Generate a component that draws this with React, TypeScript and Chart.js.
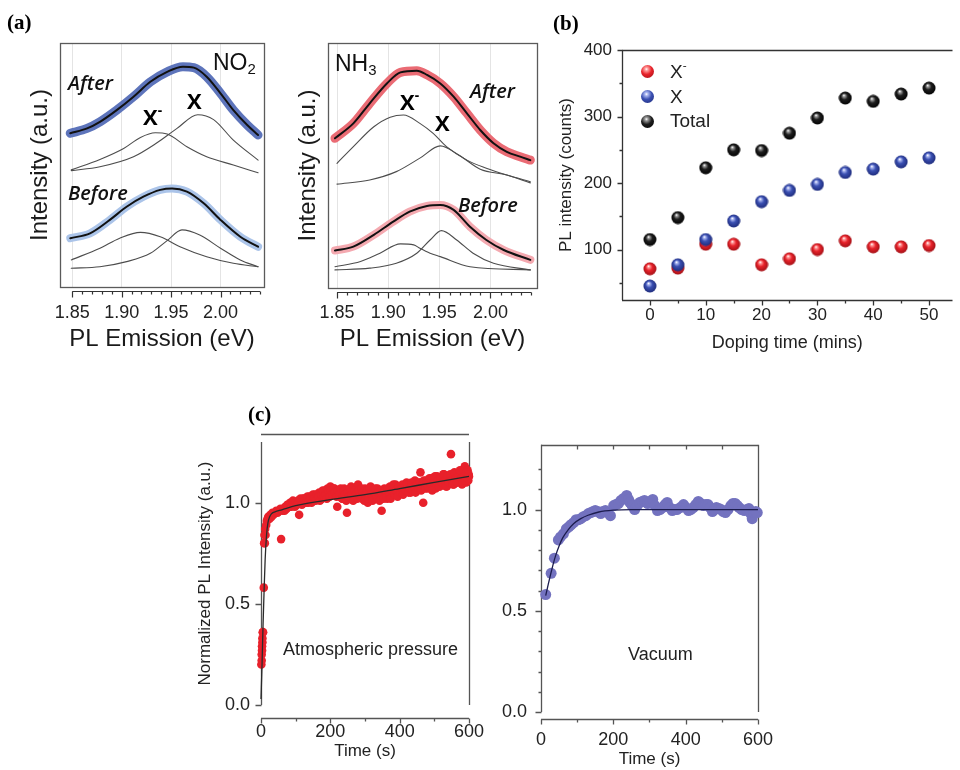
import React, { useEffect, useRef } from 'react';
import { Chart, registerables } from 'chart.js';
Chart.register(...registerables);

const FONT = "'Liberation Sans', Arial, sans-serif";

// ---------------- Panel (a): PL spectra ----------------
const evTicks = [1.85, 1.9, 1.95, 2.0];
const evMinorTicks = [1.86, 1.87, 1.88, 1.89, 1.91, 1.92, 1.93, 1.94, 1.96, 1.97, 1.98, 1.99, 2.01, 2.02, 2.03, 2.04];
const evAxisExtent = [1.85, 2.04];
const no2Range = [1.8376, 2.044];
const nh3Range = [1.8412, 2.0455];

const no2After = [[1.848, 63.0], [1.865, 65.0], [1.878, 67.7], [1.895, 72.5], [1.912, 78.0], [1.929, 84.1], [1.946, 88.2], [1.962, 90.3], [1.973, 89.9], [1.986, 86.2], [2.0, 79.4], [2.013, 72.5], [2.027, 66.4], [2.038, 62.3]];
const no2AfterXm = [[1.849, 48.0], [1.878, 52.3], [1.902, 56.8], [1.919, 61.3], [1.934, 63.2], [1.946, 62.7], [1.966, 57.5], [1.986, 53.4], [2.013, 50.0], [2.038, 46.8]];
const no2AfterX = [[1.849, 47.7], [1.878, 49.3], [1.912, 53.4], [1.935, 58.9], [1.956, 65.0], [1.977, 70.6], [1.993, 68.6], [2.013, 60.2], [2.038, 52.0]];
const no2Before = [[1.848, 20.0], [1.868, 22.0], [1.888, 27.5], [1.905, 32.9], [1.922, 37.0], [1.939, 39.8], [1.951, 40.4], [1.966, 39.1], [1.983, 34.3], [2.0, 27.5], [2.02, 20.6], [2.038, 16.5]];
const no2BeforeXm = [[1.849, 11.1], [1.878, 15.9], [1.898, 20.0], [1.919, 22.4], [1.939, 20.6], [1.959, 16.5], [1.986, 12.4], [2.013, 9.7], [2.038, 8.3]];
const no2BeforeX = [[1.849, 7.7], [1.878, 8.3], [1.905, 10.4], [1.929, 13.8], [1.946, 19.0], [1.961, 23.4], [1.979, 21.3], [2.0, 15.9], [2.02, 11.1], [2.038, 8.3]];

const nh3After = [[1.848, 61.1], [1.866, 67.2], [1.882, 75.4], [1.899, 83.6], [1.912, 88.0], [1.928, 88.7], [1.938, 87.0], [1.951, 83.5], [1.964, 78.1], [1.977, 71.3], [1.99, 64.5], [2.003, 59.1], [2.016, 55.6], [2.029, 53.6], [2.039, 52.2]];
const nh3AfterXm = [[1.85, 50.9], [1.866, 57.7], [1.886, 65.8], [1.902, 69.7], [1.915, 70.6], [1.931, 67.2], [1.944, 63.1], [1.957, 57.7], [1.977, 52.2], [1.996, 48.9], [2.016, 46.1], [2.039, 43.4]];
const nh3AfterX = [[1.85, 42.4], [1.882, 44.1], [1.908, 47.5], [1.931, 53.0], [1.951, 58.0], [1.969, 54.3], [1.99, 48.5], [2.016, 46.1], [2.039, 42.9]];
const nh3Before = [[1.848, 15.3], [1.866, 16.9], [1.886, 21.7], [1.905, 27.1], [1.921, 31.2], [1.938, 33.5], [1.951, 33.9], [1.964, 31.9], [1.98, 25.0], [1.996, 19.6], [2.013, 15.5], [2.039, 11.5]];
const nh3BeforeXm = [[1.848, 8.7], [1.873, 10.8], [1.892, 14.2], [1.912, 18.0], [1.925, 17.6], [1.931, 16.2], [1.941, 14.2], [1.951, 12.8], [1.98, 8.7], [2.039, 7.4]];
const nh3BeforeX = [[1.848, 7.4], [1.882, 8.1], [1.908, 10.1], [1.928, 14.2], [1.941, 19.6], [1.952, 23.4], [1.967, 19.6], [1.983, 14.2], [2.003, 10.1], [2.039, 7.4]];

// ---------------- Panel (b): PL intensity vs doping time ----------------
const dopingTime = [0, 5, 10, 15, 20, 25, 30, 35, 40, 45, 50];
const trionPL = [71, 72, 108, 108, 77, 86, 100, 113, 104, 104, 106];
const excitonPL = [45, 77, 115, 143, 172, 189, 198, 216, 221, 232, 238];
const totalPL = [115, 148, 223, 250, 249, 275, 298, 328, 323, 334, 343];
const bRangeX = [-5, 54.2];
const bRangeY = [24, 400];
const bTicksX = [0, 10, 20, 30, 40, 50];
const bMinorX = [5, 15, 25, 35, 45];
const bTicksY = [100, 200, 300, 400];
const bMinorY = [50, 150, 250, 350];

// ---------------- Panel (c): recovery ----------------
const timeTicks = [0, 200, 400, 600];
const timeMinor = [100, 300, 500];
const timeTopTicks = [100, 200, 300, 400, 500];
const timeExtent = [0, 600];
const normTicks = [0, 0.5, 1.0];
const normMinor = [0.1, 0.2, 0.3, 0.4, 0.6, 0.7, 0.8, 0.9, 1.1, 1.2];
const atmYExtent = [0, 1.3];
const vacYExtent = [0, 1.32];

const atmPoints = [
  [1, 0.2], [2, 0.22], [2, 0.25], [3, 0.27], [3, 0.29], [4, 0.31], [4, 0.33], [5, 0.36], [6, 0.36], [8, 0.58], [9, 0.8], [10, 0.84], [11, 0.8], [12, 0.87], [13, 0.84], [15, 0.89], [17, 0.91], [19, 0.92], [21, 0.93], [24, 0.92], [27, 0.94], [30, 0.93], [33, 0.95], [36, 0.94], [40, 0.95], [44, 0.96], [48, 0.95], [52, 0.96], [56, 0.97], [58, 0.82],
  [62, 0.96], [66, 0.97], [70, 0.98], [74, 0.97], [78, 0.99], [82, 0.98], [86, 1.0], [90, 0.99], [94, 1.0], [98, 0.98], [102, 1.0], [106, 1.01], [110, 0.94], [112, 1.0], [116, 1.01], [120, 1.0], [124, 1.02], [128, 1.01], [132, 1.02], [136, 1.0], [140, 1.03], [144, 1.02], [148, 1.01], [152, 1.03], [156, 1.04], [160, 1.02], [164, 1.03], [168, 1.05], [172, 1.04], [176, 1.02], [180, 1.05], [184, 1.06], [188, 1.03], [192, 1.07], [196, 1.05], [200, 1.08], [204, 1.06], [208, 1.04], [212, 1.07], [216, 1.05], [220, 0.98], [224, 1.06], [228, 1.03], [232, 1.05], [236, 1.02], [240, 1.07], [244, 1.04], [248, 0.95], [252, 1.06], [256, 1.03], [260, 1.08], [264, 1.02], [268, 1.05], [272, 1.07], [276, 1.03], [280, 1.09], [284, 1.04], [288, 1.06], [292, 1.02], [296, 1.05], [300, 1.07], [304, 1.03], [308, 1.0], [312, 1.05], [316, 1.08], [320, 1.03], [324, 1.06], [328, 1.02], [332, 1.04], [336, 1.07], [340, 1.03], [344, 1.05], [348, 0.96], [352, 1.04], [356, 1.07], [360, 1.05], [364, 1.02], [368, 1.06], [372, 1.08], [376, 1.04], [380, 1.07], [384, 1.05], [388, 1.09], [392, 1.06], [396, 1.04], [400, 1.08], [404, 1.06], [408, 1.09], [412, 1.05], [416, 1.07], [420, 1.1], [424, 1.06], [428, 1.08], [432, 1.05], [436, 1.09], [440, 1.07], [444, 1.11], [448, 1.06], [452, 1.08], [456, 1.1], [460, 1.15], [464, 1.07], [468, 1.0], [472, 1.09], [476, 1.11], [480, 1.07], [484, 1.1], [488, 1.08], [492, 1.12], [496, 1.09], [500, 1.11], [504, 1.07], [508, 1.13], [512, 1.1], [516, 1.08], [520, 1.12], [524, 1.09], [528, 1.14], [532, 1.11], [536, 1.08], [540, 1.12], [544, 1.1], [548, 1.24], [552, 1.13], [556, 1.09], [560, 1.12], [564, 1.1], [568, 1.14], [572, 1.11], [576, 1.13], [580, 1.09], [584, 1.15], [588, 1.18], [590, 1.12], [592, 1.1], [594, 1.14], [596, 1.16], [598, 1.11], [600, 1.13],
  [64, 0.97], [68, 0.96], [72, 0.97], [76, 0.99], [80, 0.98], [84, 1.0], [88, 0.98], [92, 1.01], [96, 0.99], [100, 1.0], [104, 0.99], [108, 1.0], [114, 1.02], [118, 0.99], [122, 1.02], [126, 1.01], [130, 1.0], [134, 1.03], [138, 1.01], [142, 1.02], [146, 1.0], [150, 1.04], [154, 1.02], [158, 1.01], [162, 1.04], [166, 1.03], [170, 1.01], [174, 1.04], [178, 1.06], [182, 1.03], [186, 1.04], [190, 1.02], [194, 1.05], [198, 1.03], [202, 1.06], [206, 1.04], [210, 1.07], [214, 1.05], [218, 1.03], [222, 1.06], [226, 1.04], [230, 1.07], [234, 1.02], [238, 1.06], [242, 1.04], [246, 1.01], [250, 1.05], [254, 1.03], [258, 1.07], [262, 1.04], [266, 1.01], [270, 1.06], [274, 1.04], [278, 1.02], [282, 1.06], [286, 1.03], [290, 1.07], [294, 1.05], [298, 1.01], [302, 1.04], [306, 1.06], [310, 1.02], [314, 1.07], [318, 1.04], [322, 1.01], [326, 1.05], [330, 1.07], [334, 1.03], [338, 1.05], [342, 1.01], [346, 1.06], [350, 1.04], [354, 1.02], [358, 1.06], [362, 1.03], [366, 1.07], [370, 1.04], [374, 1.02], [378, 1.06], [382, 1.09], [386, 1.04], [390, 1.06], [394, 1.03], [398, 1.08], [402, 1.05], [406, 1.07], [410, 1.04], [414, 1.08], [418, 1.06], [422, 1.09], [426, 1.05], [430, 1.07], [434, 1.1], [438, 1.06], [442, 1.08], [446, 1.05], [450, 1.09], [454, 1.07], [458, 1.1], [462, 1.06], [466, 1.09], [470, 1.11], [474, 1.07], [478, 1.1], [482, 1.08], [486, 1.12], [490, 1.09], [494, 1.06], [498, 1.1], [502, 1.13], [506, 1.09], [510, 1.11], [514, 1.08], [518, 1.12], [522, 1.1], [526, 1.14], [530, 1.11], [534, 1.08], [538, 1.13], [542, 1.1], [546, 1.14], [550, 1.11], [554, 1.09], [558, 1.15], [562, 1.12], [566, 1.1], [570, 1.13], [574, 1.16], [578, 1.12], [582, 1.1], [586, 1.13], [589, 1.11], [593, 1.15], [597, 1.12], [599, 1.14]
];
const atmFit = [[0, 0.03], [3, 0.2], [6, 0.4], [9, 0.57], [12, 0.72], [16, 0.84], [20, 0.9], [25, 0.93], [30, 0.945], [40, 0.955], [60, 0.965], [100, 0.985], [200, 1.015], [300, 1.04], [400, 1.07], [500, 1.1], [600, 1.13]];

const vacPoints = [
  [13, 0.58], [28, 0.685], [37, 0.76], [48, 0.85], [54, 0.865], [62, 0.88], [70, 0.905], [77, 0.915], [83, 0.925], [90, 0.935], [97, 0.95], [104, 0.95], [110, 0.955], [117, 0.965], [124, 0.97], [131, 0.98], [138, 0.985], [144, 0.99], [150, 0.995], [157, 0.99], [165, 0.98], [171, 0.99], [178, 0.995], [185, 0.985], [192, 0.97], [201, 1.02], [207, 1.025], [214, 1.03], [221, 1.045], [228, 1.055], [237, 1.07], [242, 1.05], [246, 1.035], [252, 1.02], [259, 1.0], [266, 1.02], [273, 1.035], [280, 1.04], [286, 1.045], [295, 1.03], [302, 1.04], [309, 1.05], [315, 1.02], [322, 0.995], [329, 1.0], [336, 1.01], [343, 1.025], [349, 1.035], [356, 1.01], [363, 0.995], [370, 1.0], [376, 1.0], [385, 1.01], [394, 1.025], [401, 1.01], [408, 0.995], [414, 1.0], [421, 1.01], [428, 1.025], [435, 1.04], [442, 1.03], [449, 1.02], [456, 1.025], [462, 1.025], [468, 1.01], [474, 0.99], [480, 1.0], [485, 1.01], [492, 1.005], [498, 1.0], [504, 0.99], [510, 0.985], [517, 1.0], [525, 1.02], [531, 1.03], [537, 1.03], [543, 1.02], [548, 1.01], [555, 1.0], [562, 0.995], [569, 1.0], [575, 1.005], [580, 0.98], [584, 0.955], [589, 0.985], [594, 0.99], [598, 0.985]
];
const vacFit = [[13, 0.575], [20, 0.63], [30, 0.705], [40, 0.77], [50, 0.82], [60, 0.86], [75, 0.9], [90, 0.93], [110, 0.955], [130, 0.972], [160, 0.988], [200, 0.997], [250, 1.0], [600, 1.0]];

// ---------------- helpers ----------------
type FrameSpec = {
  side: 'bottom' | 'top' | 'left' | 'right';
  offset: number;
  extent?: number[];
  major?: number[];
  minor?: number[];
  majorLen?: number;
  minorLen?: number;
  color?: string;
  width?: number;
};

const crisp = (v: number) => Math.round(v) + 0.5;

const makeFrame = (specs: FrameSpec[], box?: { color: string; width: number }) => ({
  id: 'frame',
  beforeDatasetsDraw(chart: any) {
    const { ctx, chartArea: a, scales } = chart;
    ctx.save();
    if (box) {
      ctx.strokeStyle = box.color;
      ctx.lineWidth = box.width;
      ctx.strokeRect(crisp(a.left), crisp(a.top), Math.round(a.right - a.left), Math.round(a.bottom - a.top));
    }
    for (const s of specs) {
      ctx.strokeStyle = s.color || '#333';
      ctx.lineWidth = s.width || 1;
      const horiz = s.side === 'bottom' || s.side === 'top';
      const sc = horiz ? scales.x : scales.y;
      const base = crisp(
        s.side === 'bottom' ? a.bottom + s.offset : s.side === 'top' ? a.top - s.offset : s.side === 'left' ? a.left - s.offset : a.right + s.offset
      );
      ctx.beginPath();
      if (s.extent) {
        const p0 = sc.getPixelForValue(s.extent[0]);
        const p1 = sc.getPixelForValue(s.extent[1]);
        if (horiz) { ctx.moveTo(p0, base); ctx.lineTo(p1, base); } else { ctx.moveTo(base, p0); ctx.lineTo(base, p1); }
      }
      const groups: [number[], number][] = [[s.major || [], s.majorLen || 0], [s.minor || [], s.minorLen || 0]];
      for (const [vals, len] of groups) {
        for (const v of vals) {
          const p = crisp(sc.getPixelForValue(v));
          if (horiz) { ctx.moveTo(p, base); ctx.lineTo(p, base + len); } else { ctx.moveTo(base, p); ctx.lineTo(base + len, p); }
        }
      }
      ctx.stroke();
    }
    ctx.restore();
  },
});

const pts = (arr: number[][]) => arr.map(([x, y]) => ({ x, y }));

const curve = (data: number[][], color: string, width: number, order: number) => ({
  type: 'line',
  data: pts(data),
  borderColor: color,
  borderWidth: width,
  pointRadius: 0,
  cubicInterpolationMode: 'monotone',
  borderCapStyle: 'round',
  borderJoinStyle: 'round',
  fill: false,
  order,
});

const baseOptions = {
  animation: false,
  responsive: false,
  devicePixelRatio: 1,
  events: [],
  plugins: { legend: { display: false }, tooltip: { enabled: false } },
};

const noGrid = { display: false, drawTicks: false };
const setTicks = (vals: number[]) => (s: any) => { s.ticks = vals.map((v) => ({ value: v })); };

function sphere(light: string, base: string, dark: string) {
  const c = document.createElement('canvas');
  c.width = 14; c.height = 14;
  const g = c.getContext('2d')!;
  const grd = g.createRadialGradient(5.5, 4.2, 0.3, 7, 7, 7);
  grd.addColorStop(0, '#ffffff');
  grd.addColorStop(0.14, light);
  grd.addColorStop(0.45, base);
  grd.addColorStop(1, dark);
  g.fillStyle = grd;
  g.beginPath();
  g.arc(7, 7, 6.5, 0, Math.PI * 2);
  g.fill();
  return c;
}

// ---------------- chart configs ----------------
type ADims = { yw: number; r: number; t: number; xh: number; tp: number; xtp: number; ytp: number };

function panelA(range: number[], after: number[][], before: number[][], aXm: number[][], aX: number[][], bXm: number[][], bX: number[][], colors: string[], d: ADims) {
  return {
    type: 'line',
    data: {
      datasets: [
        curve(after, '#111', 2, 0),
        curve(before, '#111', 2, 0),
        curve(after, colors[0], 9, 1),
        curve(before, colors[1], 8, 1),
        curve(aXm, '#4d4d4d', 1.1, 2),
        curve(aX, '#4d4d4d', 1.1, 2),
        curve(bXm, '#4d4d4d', 1.1, 2),
        curve(bX, '#4d4d4d', 1.1, 2),
      ],
    },
    options: {
      ...baseOptions,
      layout: { padding: { left: 0, right: d.r, top: d.t, bottom: 0 } },
      scales: {
        x: {
          type: 'linear', min: range[0], max: range[1],
          afterFit: (s: any) => { s.height = d.xh; },
          afterBuildTicks: setTicks(evTicks),
          ticks: { padding: d.tp, font: { family: FONT, size: 18 }, color: '#222', callback: (v: any) => Number(v).toFixed(2) },
          grid: { drawTicks: false, color: '#e4e4e4', lineWidth: 1 },
          border: { display: false },
          title: { display: true, text: 'PL Emission (eV)', font: { family: FONT, size: 24 }, color: '#1a1a1a', padding: { top: 0, bottom: d.xtp } },
        },
        y: {
          type: 'linear', min: 0, max: 100,
          afterFit: (s: any) => { s.width = d.yw; },
          ticks: { display: false },
          grid: noGrid,
          border: { display: false },
          title: { display: true, text: 'Intensity (a.u.)', font: { family: FONT, size: 24 }, color: '#1a1a1a', padding: { top: d.ytp, bottom: 0 } },
        },
      },
    },
    plugins: [
      makeFrame(
        [{ side: 'bottom', offset: 4, extent: evAxisExtent, major: evTicks, minor: evMinorTicks, majorLen: 6, minorLen: 3, color: '#333', width: 1.2 }],
        { color: '#5a5a5a', width: 1.3 }
      ),
    ],
  };
}

function panelB() {
  const red = sphere('#ff9a9a', '#e8232b', '#9c0e14');
  const blue = sphere('#aab6f0', '#3b50b2', '#1b2877');
  const black = sphere('#9a9a9a', '#1e1e1e', '#000000');
  const ds = (vals: number[], img: HTMLCanvasElement, label: string) => ({
    label,
    data: dopingTime.map((t, i) => ({ x: t, y: vals[i] })),
    pointStyle: img,
    pointRadius: 6.5,
    showLine: false,
  });
  return {
    type: 'scatter',
    data: { datasets: [ds(totalPL, black, 'Total'), ds(excitonPL, blue, 'X'), ds(trionPL, red, 'X-')] },
    options: {
      ...baseOptions,
      layout: { padding: { left: 0, right: 0, top: 14, bottom: 0 } },
      scales: {
        x: {
          type: 'linear', min: bRangeX[0], max: bRangeX[1],
          afterFit: (s: any) => { s.height = 70; },
          afterBuildTicks: setTicks(bTicksX),
          ticks: { padding: 5, font: { family: FONT, size: 17 }, color: '#222' },
          grid: noGrid,
          border: { display: false },
          title: { display: true, text: 'Doping time (mins)', font: { family: FONT, size: 18 }, color: '#222', padding: { top: 0, bottom: 16 } },
        },
        y: {
          type: 'linear', min: bRangeY[0], max: bRangeY[1],
          afterFit: (s: any) => { s.width = 72; },
          afterBuildTicks: setTicks(bTicksY),
          ticks: { padding: 10, font: { family: FONT, size: 17 }, color: '#222' },
          grid: noGrid,
          border: { display: false },
          title: { display: true, text: 'PL intensity (counts)', font: { family: FONT, size: 17 }, color: '#222', padding: { top: 6, bottom: 0 } },
        },
      },
    },
    plugins: [
      makeFrame([
        { side: 'left', offset: 0, extent: bRangeY, major: bTicksY, minor: bMinorY, majorLen: -5, minorLen: -3, color: '#333', width: 1.3 },
        { side: 'bottom', offset: 0, extent: bRangeX, major: bTicksX, minor: bMinorX, majorLen: 5, minorLen: 3, color: '#333', width: 1.3 },
        { side: 'top', offset: 0, extent: bRangeX, color: '#333', width: 1.3 },
      ]),
    ],
  };
}

function panelC(kind: 'atm' | 'vac') {
  const atm = kind === 'atm';
  const points = atm ? atmPoints : vacPoints;
  const fit = atm ? atmFit : vacFit;
  const yExt = atm ? atmYExtent : vacYExtent;
  const frame: FrameSpec[] = atm
    ? [
        { side: 'left', offset: 0, extent: yExt, major: normTicks, majorLen: -6, color: '#555', width: 1.3 },
        { side: 'right', offset: 0, extent: yExt, color: '#555', width: 1.3 },
        { side: 'top', offset: 8.5, extent: timeExtent, color: '#555', width: 1.3 },
        { side: 'bottom', offset: 13, extent: timeExtent, major: timeTicks, minor: timeMinor, majorLen: 5, minorLen: 3, color: '#555', width: 1.3 },
      ]
    : [
        { side: 'left', offset: 0, extent: yExt, major: normTicks, minor: normMinor, majorLen: -6, minorLen: -3, color: '#555', width: 1.3 },
        { side: 'right', offset: 0, extent: yExt, color: '#555', width: 1.3 },
        { side: 'top', offset: 0, extent: timeExtent, major: timeTopTicks, majorLen: 4, color: '#555', width: 1.3 },
        { side: 'bottom', offset: 6.5, extent: timeExtent, major: timeTicks, minor: timeMinor, majorLen: 5, minorLen: 3, color: '#555', width: 1.3 },
      ];
  return {
    type: 'scatter',
    data: {
      datasets: [
        { data: pts(fit), showLine: true, borderColor: atm ? '#2a2a2a' : '#1c1c4e', borderWidth: 1.3, pointRadius: 0, cubicInterpolationMode: 'monotone', order: 0, clip: false },
        { data: pts(points), backgroundColor: atm ? '#e8212b' : '#7372bf', borderWidth: 0, pointRadius: atm ? 4.3 : 5.5, order: 1, clip: false },
      ],
    },
    options: {
      ...baseOptions,
      layout: { padding: { left: 0, right: atm ? 17 : 27, top: atm ? 22 : 12, bottom: 0 } },
      scales: {
        x: {
          type: 'linear', min: timeExtent[0], max: timeExtent[1],
          afterFit: (s: any) => { s.height = atm ? 65 : 58; },
          afterBuildTicks: setTicks(timeTicks),
          ticks: { padding: atm ? 16 : 17, font: { family: FONT, size: 18 }, color: '#222' },
          grid: noGrid,
          border: { display: false },
          title: { display: true, text: 'Time (s)', font: { family: FONT, size: 17 }, color: '#222', padding: { top: 0, bottom: atm ? 8 : 0 } },
        },
        y: {
          type: 'linear', min: yExt[0], max: yExt[1],
          afterFit: (s: any) => { s.width = atm ? 81 : 56; },
          afterBuildTicks: setTicks(normTicks),
          ticks: { padding: atm ? 11 : 14, font: { family: FONT, size: 18 }, color: '#222', callback: (v: any) => Number(v).toFixed(1) },
          grid: noGrid,
          border: { display: false },
          title: { display: atm, text: 'Normalized PL Intensity (a.u.)', font: { family: FONT, size: 17 }, color: '#222', padding: { top: 15, bottom: 0 } },
        },
      },
    },
    plugins: [makeFrame(frame)],
  };
}

// ---------------- components ----------------
function ChartPanel({ left, top, width, height, build }: { left: number; top: number; width: number; height: number; build: () => any }) {
  const ref = useRef<HTMLCanvasElement>(null);
  useEffect(() => {
    const chart = new Chart(ref.current!, build());
    return () => chart.destroy();
  }, []);
  return <canvas ref={ref} width={width} height={height} style={{ position: 'absolute', left, top, width, height }} />;
}

function Txt({ x, cy, size, children, style }: { x: number; cy: number; size: number; children: any; style?: any }) {
  return (
    <div style={{ position: 'absolute', left: x, top: cy - size * 0.6, fontSize: size, lineHeight: 1.2, whiteSpace: 'nowrap', fontFamily: FONT, color: '#111', ...style }}>
      {children}
    </div>
  );
}

const sup = { fontSize: '0.62em', verticalAlign: '0.75em', lineHeight: 0 };
const sub = { fontSize: '0.65em', verticalAlign: '-0.3em', lineHeight: 0 };
const italic = { fontFamily: "'Open Sans', sans-serif", fontStyle: 'italic', fontWeight: 600, color: '#111' };
const boldX = { fontFamily: "'Open Sans', sans-serif", fontWeight: 700, color: '#000' };
const panelTag = { fontFamily: "'Liberation Serif', 'DejaVu Serif', serif", fontWeight: 700, color: '#000' };
const legendDot = (bg: string) => ({
  position: 'absolute' as const, width: 13, height: 13, borderRadius: '50%',
  background: bg,
});

export default function App() {
  return (
    <div style={{ position: 'absolute', left: 0, top: 0, width: 960, height: 770, background: '#fff', overflow: 'hidden' }}>
      <ChartPanel left={0} top={30} width={285} height={330}
        build={() => panelA(no2Range, no2After, no2Before, no2AfterXm, no2AfterX, no2BeforeXm, no2BeforeX, ['#5d74bb', '#abc4e9'], { yw: 60, r: 21, t: 13, xh: 73, tp: 15, xtp: 6, ytp: 26 })} />
      <ChartPanel left={285} top={30} width={265} height={330}
        build={() => panelA(nh3Range, nh3After, nh3Before, nh3AfterXm, nh3AfterX, nh3BeforeXm, nh3BeforeX, ['#ea6b74', '#f4a9b0'], { yw: 43, r: 13, t: 13, xh: 72, tp: 14, xtp: 6, ytp: 9 })} />
      <ChartPanel left={550} top={30} width={410} height={340} build={panelB} />
      <ChartPanel left={180} top={420} width={320} height={350} build={() => panelC('atm')} />
      <ChartPanel left={485} top={420} width={305} height={350} build={() => panelC('vac')} />

      <Txt x={7} cy={23} size={21} style={panelTag}>(a)</Txt>
      <Txt x={553} cy={24} size={21} style={panelTag}>(b)</Txt>
      <Txt x={248} cy={415} size={21} style={panelTag}>(c)</Txt>

      <Txt x={68} cy={83} size={20} style={italic}>After</Txt>
      <Txt x={68} cy={193} size={20} style={italic}>Before</Txt>
      <Txt x={143} cy={116} size={22} style={boldX}>X<span style={sup}>-</span></Txt>
      <Txt x={187} cy={100} size={22} style={boldX}>X</Txt>
      <Txt x={213} cy={63} size={23}>NO<span style={sub}>2</span></Txt>

      <Txt x={335} cy={64} size={23}>NH<span style={sub}>3</span></Txt>
      <Txt x={400} cy={101} size={22} style={boldX}>X<span style={sup}>-</span></Txt>
      <Txt x={435} cy={122} size={22} style={boldX}>X</Txt>
      <Txt x={470} cy={91} size={20} style={italic}>After</Txt>
      <Txt x={458} cy={205} size={20} style={italic}>Before</Txt>

      <div style={{ ...legendDot('radial-gradient(circle at 42% 32%, #ffffff 0%, #ff9a9a 14%, #e8232b 45%, #9c0e14 100%)'), left: 641, top: 65 }} />
      <div style={{ ...legendDot('radial-gradient(circle at 42% 32%, #ffffff 0%, #aab6f0 14%, #3b50b2 45%, #1b2877 100%)'), left: 641, top: 90 }} />
      <div style={{ ...legendDot('radial-gradient(circle at 42% 32%, #ffffff 0%, #9a9a9a 14%, #1e1e1e 45%, #000000 100%)'), left: 641, top: 115 }} />
      <Txt x={670} cy={72} size={19} style={{ color: '#222' }}>X<span style={sup}>-</span></Txt>
      <Txt x={670} cy={97} size={19} style={{ color: '#222' }}>X</Txt>
      <Txt x={670} cy={121} size={19} style={{ color: '#222' }}>Total</Txt>

      <Txt x={283} cy={650} size={18} style={{ color: '#222' }}>Atmospheric pressure</Txt>
      <Txt x={628} cy={655} size={18} style={{ color: '#222' }}>Vacuum</Txt>
    </div>
  );
}
